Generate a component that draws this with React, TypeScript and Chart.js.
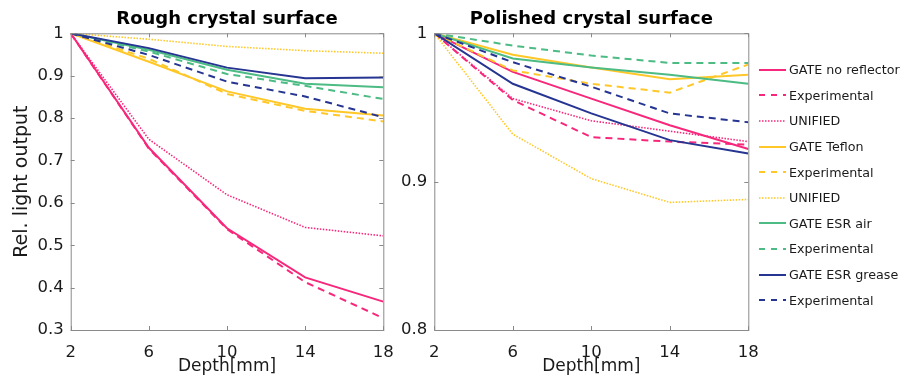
import React, { useEffect, useRef } from "react";
import { Chart, registerables } from "chart.js";

Chart.register(...registerables);

const depths = [2, 6, 10, 14, 18];

// Rough crystal surface
const roughGateNoRefl = [1, 0.730, 0.540, 0.424, 0.367];
const roughExpNoRefl = [1, 0.728, 0.538, 0.413, 0.328];
const roughUnifiedNoRefl = [1, 0.750, 0.619, 0.542, 0.522];
const roughGateTeflon = [1, 0.933, 0.863, 0.822, 0.806];
const roughExpTeflon = [1, 0.940, 0.857, 0.817, 0.792];
const roughUnifiedTeflon = [1, 0.986, 0.969, 0.959, 0.953];
const roughGateEsrAir = [1, 0.961, 0.914, 0.881, 0.873];
const roughExpEsrAir = [1, 0.957, 0.904, 0.876, 0.845];
const roughGateEsrGrease = [1, 0.965, 0.919, 0.894, 0.896];
const roughExpEsrGrease = [1, 0.949, 0.886, 0.851, 0.802];

// Polished crystal surface
const polGateNoRefl = [1, 0.974, 0.956, 0.938, 0.922];
const polExpNoRefl = [1, 0.955, 0.930, 0.927, 0.925];
const polUnifiedNoRefl = [1, 0.956, 0.941, 0.934, 0.927];
const polGateTeflon = [1, 0.9855, 0.977, 0.969, 0.972];
const polExpTeflon = [1, 0.975, 0.966, 0.960, 0.979];
const polUnifiedTeflon = [1, 0.932, 0.902, 0.886, 0.888];
const polGateEsrAir = [1, 0.983, 0.977, 0.972, 0.966];
const polExpEsrAir = [1, 0.9917, 0.985, 0.980, 0.980];
const polGateEsrGrease = [1, 0.966, 0.946, 0.928, 0.919];
const polExpEsrGrease = [1, 0.9805, 0.964, 0.946, 0.940];

const roughTicksY = [0.3, 1];
const polishedTicksY = [0.8, 1];

const legendLabels = [
  "GATE no reflector",
  "Experimental",
  "UNIFIED",
  "GATE Teflon",
  "Experimental",
  "UNIFIED",
  "GATE ESR air",
  "Experimental",
  "GATE ESR grease",
  "Experimental",
];

const PINK = "#f7287c";
const YELLOW = "#ffc828";
const GREEN = "#4cbb84";
const BLUE = "#263592";

type Style = { color: string; dash: number[]; width: number };
const SOLID = (c: string): Style => ({ color: c, dash: [], width: 2 });
const DASH = (c: string): Style => ({ color: c, dash: [7, 5], width: 2 });
const DOT = (c: string): Style => ({ color: c, dash: [1.5, 1.5], width: 1.6 });

const styles: Style[] = [
  SOLID(PINK), DASH(PINK), DOT(PINK),
  SOLID(YELLOW), DASH(YELLOW), DOT(YELLOW),
  SOLID(GREEN), DASH(GREEN),
  SOLID(BLUE), DASH(BLUE),
];

const roughSeries = [
  roughGateNoRefl, roughExpNoRefl, roughUnifiedNoRefl,
  roughGateTeflon, roughExpTeflon, roughUnifiedTeflon,
  roughGateEsrAir, roughExpEsrAir,
  roughGateEsrGrease, roughExpEsrGrease,
];
const polishedSeries = [
  polGateNoRefl, polExpNoRefl, polUnifiedNoRefl,
  polGateTeflon, polExpTeflon, polUnifiedTeflon,
  polGateEsrAir, polExpEsrAir,
  polGateEsrGrease, polExpEsrGrease,
];

const FONT = "'DejaVu Sans', Verdana, sans-serif";
const TEXT = "#1a1a1a";
const AXIS = "#8a8a8a";

const boxPlugin = {
  id: "matlabBox",
  afterDatasetsDraw(chart: any) {
    const { ctx, chartArea: a, scales } = chart;
    ctx.save();
    ctx.strokeStyle = AXIS;
    ctx.lineWidth = 1;
    ctx.setLineDash([]);
    ctx.strokeRect(a.left + 0.5, a.top + 0.5, a.right - a.left, a.bottom - a.top);
    const L = 4;
    ctx.beginPath();
    scales.x.ticks.forEach((t: any) => {
      const px = Math.round(scales.x.getPixelForValue(t.value)) + 0.5;
      ctx.moveTo(px, a.bottom);
      ctx.lineTo(px, a.bottom - L);
      ctx.moveTo(px, a.top);
      ctx.lineTo(px, a.top + L);
    });
    scales.y.ticks.forEach((t: any) => {
      const py = Math.round(scales.y.getPixelForValue(t.value)) + 0.5;
      ctx.moveTo(a.left, py);
      ctx.lineTo(a.left + L, py);
      ctx.moveTo(a.right, py);
      ctx.lineTo(a.right - L, py);
    });
    ctx.stroke();
    ctx.restore();
  },
};

function makeConfig(
  title: string,
  series: number[][],
  yRange: number[],
  yWidth: number,
  padding: any,
  yTitle: string | null
): any {
  return {
    type: "line",
    data: {
      labels: depths,
      datasets: series.map((vals, i) => ({
        label: legendLabels[i],
        data: vals.map((v, j) => ({ x: depths[j], y: v })),
        borderColor: styles[i].color,
        borderDash: styles[i].dash,
        borderWidth: styles[i].width,
        pointRadius: 0,
        fill: false,
        tension: 0,
        order: 10 - i,
      })),
    },
    options: {
      animation: false,
      responsive: false,
      maintainAspectRatio: false,
      layout: { padding },
      plugins: {
        legend: { display: false },
        tooltip: { enabled: false },
        title: {
          display: true,
          fullSize: false,
          text: title,
          color: "#000",
          font: { family: FONT, size: 18, weight: "bold", lineHeight: 1.2 },
          padding: { top: 9, bottom: 2.7 },
        },
      },
      scales: {
        x: {
          type: "linear",
          min: depths[0],
          max: depths[depths.length - 1],
          grid: { display: false, drawTicks: false },
          border: { display: false },
          afterBuildTicks: (s: any) => {
            s.ticks = depths.filter((d) => d % 4 === 2).map((v) => ({ value: v }));
          },
          ticks: {
            color: TEXT,
            font: { family: FONT, size: 16.5 },
            padding: 13,
            maxRotation: 0,
            autoSkip: false,
          },
          title: {
            display: true,
            text: "Depth[mm]",
            color: TEXT,
            font: { family: FONT, size: 17 },
            padding: { top: 0, bottom: 1 },
          },
          afterFit: (s: any) => {
            s.height = 48;
            s.paddingLeft = 0;
            s.paddingRight = 0;
          },
        },
        y: {
          type: "linear",
          min: yRange[0],
          max: yRange[1],
          grid: { display: false, drawTicks: false },
          border: { display: false },
          ticks: {
            stepSize: 0.1,
            color: TEXT,
            font: { family: FONT, size: 16.5 },
            padding: 7,
            callback: (v: number) => String(Number(v.toFixed(2))),
          },
          title: yTitle
            ? {
                display: true,
                text: yTitle,
                color: TEXT,
                font: { family: FONT, size: 19 },
                padding: { top: 11, bottom: 0 },
              }
            : { display: false },
          afterFit: (s: any) => {
            s.width = yWidth;
          },
        },
      },
    },
    plugins: [boxPlugin],
  };
}

function ChartCanvas(props: { config: any; width: number; height: number; left: number; top: number }) {
  const ref = useRef<HTMLCanvasElement | null>(null);
  useEffect(() => {
    if (!ref.current) return;
    const chart = new Chart(ref.current, props.config);
    return () => chart.destroy();
  }, []);
  return (
    <canvas
      ref={ref}
      width={props.width}
      height={props.height}
      style={{ position: "absolute", left: props.left, top: props.top, width: props.width, height: props.height }}
    />
  );
}

function LegendLine({ s }: { s: Style }) {
  return (
    <svg width={30} height={10} style={{ display: "block" }}>
      <line
        x1={2}
        y1={5}
        x2={29}
        y2={5}
        stroke={s.color}
        strokeWidth={s.width}
        strokeDasharray={s.dash.length ? (s.dash[0] < 3 ? "1.5 1.5" : "6 6") : undefined}
      />
    </svg>
  );
}

export default function App() {
  const roughCfg = makeConfig(
    "Rough crystal surface",
    roughSeries,
    roughTicksY,
    70.7,
    { left: 0, right: 16.7, top: 0, bottom: 6 },
    "Rel. light output"
  );
  const polCfg = makeConfig(
    "Polished crystal surface",
    polishedSeries,
    polishedTicksY,
    44.3,
    { left: 0, right: 11.7, top: 0, bottom: 6 },
    null
  );
  return (
    <div
      style={{
        position: "fixed",
        left: 0,
        top: 0,
        width: 909,
        height: 384,
        background: "#fff",
        overflow: "hidden",
      }}
    >
      <ChartCanvas config={roughCfg} width={400} height={384} left={0} top={0} />
      <ChartCanvas config={polCfg} width={370} height={384} left={390} top={0} />
      <div style={{ position: "absolute", left: 757, top: 57, fontFamily: FONT, fontSize: 12.7, color: TEXT }}>
        {legendLabels.map((lab, i) => (
          <div key={i} style={{ display: "flex", alignItems: "center", height: 25.6, whiteSpace: "nowrap" }}>
            <LegendLine s={styles[i]} />
            <span style={{ marginLeft: 2 }}>{lab}</span>
          </div>
        ))}
      </div>
    </div>
  );
}
